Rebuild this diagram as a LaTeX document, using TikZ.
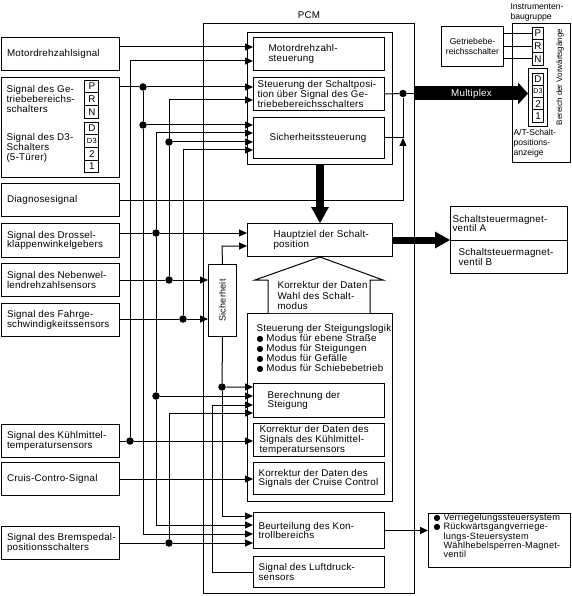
\documentclass[tikz,border=0pt]{standalone}
\usepackage{fontspec}
\setmainfont{Liberation Sans}[LetterSpace=2.5]
\newfontfamily\narrowfont{Liberation Sans}
\newfontfamily\symfont{DejaVu Sans}
\usetikzlibrary{arrows.meta,positioning}

\newcommand{\bul}{{\symfont\fontsize{8}{8}\selectfont ●}}

\tikzset{
  box/.style={draw, anchor=north west, inner sep=0pt},
  inbox/.style={box, minimum width=118pt, minimum height=33pt},
  fnbox/.style={box, minimum width=131pt},
  txt/.style={inner sep=0pt, align=left, anchor=west},
  smalltext/.style={font=\narrowfont\fontsize{8.6}{10}\selectfont},
  cell/.style={draw, inner sep=0pt, minimum width=13.7pt, minimum height=12.6pt},
  junction/.style={circle, fill, inner sep=0pt, minimum size=7.5pt},
  sig/.style={-{Triangle[length=8pt,width=7pt]}},
  bus/.style args={#1/#2/#3}{line width=#1, -{Triangle[length=#2,width=#3,line width=0pt]}},
}

\begin{document}
\begin{tikzpicture}[x=1pt, y=-1pt, line width=1pt, font=\fontsize{9.8}{9.8}\selectfont]
\useasboundingbox (0,0) rectangle (571,596);

% PCM frame
\node[box, minimum width=211pt, minimum height=570pt] (pcm) at (203,23) {};
\node[inner sep=0pt, above=4pt of pcm.north] (pcmLabel) {PCM};

% input signals
\node[inbox] (sMotor) at (0.5,37) {};
\node[inbox, minimum height=100pt] (sGetr) at (0.5,77) {};
\node[inbox] (sDiag) at (0.5,183) {};
\node[inbox, minimum height=34pt] (sDross) at (0.5,223) {};
\node[inbox] (sNeben) at (0.5,263) {};
\node[inbox] (sFahr) at (0.5,303) {};
\node[inbox] (sKuehl) at (0.5,424) {};
\node[inbox] (sCruise) at (0.5,462) {};
\node[inbox] (sBrems) at (0.5,526) {};

\node[txt, right=6pt of sMotor.west] (tMotor) {Motordrehzahlsignal};
\node[txt] (tGetr) at (6,99) {Signal des Ge-\\triebebereichs-\\schalters};
\node[txt] (tD3) at (6,148) {Signal des D3-\\Schalters\\(5-Türer)};
\node[txt, right=6pt of sDiag.west] (tDiag) {Diagnosesignal};
\node[txt, right=6pt of sDross.west] (tDross) {Signal des Drossel-\\klappenwinkelgebers};
\node[txt, right=6pt of sNeben.west] (tNeben) {Signal des Nebenwel-\\lendrehzahlsensors};
\node[txt, right=6pt of sFahr.west] (tFahr) {Signal des Fahrge-\\schwindigkeitssensors};
\node[txt, right=6pt of sKuehl.west] (tKuehl) {Signal des Kühlmittel-\\temperatursensors};
\node[txt, right=6pt of sCruise.west] (tCruise) {Cruis-Contro-Signal};
\node[txt, right=6pt of sBrems.west] (tBrems) {Signal des Bremspedal-\\positionsschalters};

\foreach \lbl [count=\i] in {P,R,N}
  \node[cell] (gSel\i) at (91.8,74+12.6*\i) {\lbl};
\foreach \lbl [count=\i] in {D,{\fontsize{7.5}{7.5}\selectfont D3},2,1}
  \node[cell, minimum height=12.67pt] (gGear\i) at (91.8,115.7+12.67*\i) {\lbl};

% control blocks
\node[box, minimum width=145pt, minimum height=132pt] (ctlGroup) at (247,32) {};
\node[fnbox, minimum height=33pt] (ctlMotor) at (253,37) {};
\node[fnbox, minimum height=33pt] (ctlShift) at (253,77) {};
\node[fnbox, minimum height=41pt] (ctlSafe) at (253,117) {};
\node[box, minimum width=145pt, minimum height=33pt] (mainT) at (247,223) {};
\node[box, minimum width=28pt, minimum height=72pt] (safety) at (208,264)
  {\rotatebox{90}{\fontsize{9}{9}\selectfont Sicherheit}};
\node[box, minimum width=145pt, minimum height=188pt] (slope) at (247,313) {};
\node[fnbox, minimum height=34pt] (calc) at (253,383) {};
\node[fnbox, minimum height=33pt] (corrCool) at (253,423) {};
\node[fnbox, minimum height=32pt] (corrCruise) at (253,462) {};
\node[fnbox, minimum height=36pt] (judge) at (253,512) {};
\node[fnbox, minimum height=31pt] (baro) at (253,556) {};

\node[txt, right=15pt of ctlMotor.west] (tCtlMotor) {Motordrehzahl-\\steuerung};
\node[txt, right=4pt of ctlShift.west] (tCtlShift) {Steuerung der Schaltposi-\\tion über Signal des Ge-\\triebebereichsschalters};
\node[txt, right=16pt of ctlSafe.west] (tCtlSafe) {Sicherheitssteuerung};
\node[txt, right=26pt of mainT.west] (tMainT) {Hauptziel der Schalt-\\position};
\node[txt, font=\fontsize{9.8}{10.2}\selectfont] (tSlope) at (256,348.5)
  {Steuerung der Steigungslogik\\\bul\ Modus für ebene Straße\\\bul\ Modus für Steigungen\\\bul\ Modus für Gefälle\\\bul\ Modus für Schiebebetrieb};
\node[txt, right=14pt of calc.west] (tCalc) {Berechnung der\\Steigung};
\node[txt, right=6pt of corrCool.west] (tCorrCool) {Korrektur der Daten des\\Signals des Kühlmittel-\\temperatursensors};
\node[txt, right=5pt of corrCruise.west] (tCorrCruise) {Korrektur der Daten des\\Signals der Cruise Control};
\node[txt, right=5pt of judge.west] (tJudge) {Beurteilung des Kon-\\trollbereichs};
\node[txt, right=5pt of baro.west] (tBaro) {Signal des Luftdruck-\\sensors};

% correction arrow
\draw[fill=white] (268,313) -- (268,280) -- (255,280) -- (mainT.south) -- (383,280) -- (370,280) -- (370,313);
\node[txt, font=\fontsize{9.8}{10.5}\selectfont] (tCorr) at (277,295.5) {Korrektur der Daten\\Wahl des Schalt-\\modus};

% outputs
\node[box, minimum width=117pt, minimum height=34pt] (valveA) at (450,206) {};
\node[box, minimum width=117pt, minimum height=33pt] (valveB) at (450,240) {};
\node[txt, right=2pt of valveA.west] (tValveA) {Schaltsteuermagnet-\\ventil A};
\node[txt, right=8pt of valveB.west] (tValveB) {Schaltsteuermagnet-\\ventil B};

\node[box, minimum width=142pt, minimum height=54pt] (lock) at (428,513) {};
\node[txt, font=\fontsize{9.2}{9.3}\selectfont] (tLock) at (443,536)
  {\makebox[0pt][r]{\bul\ }Verriegelungssteuersystem\\\makebox[0pt][r]{\bul\ }Rückwärtsgangverriege-\\lungs-Steuersystem\\Wählhebelsperren-Magnet-\\ventil};

% instrument cluster
\node[box, minimum width=58pt, minimum height=139pt] (instr) at (512,23) {};
\node[txt, smalltext] (tInstr) at (510,12) {Instrumenten-\\baugruppe};
\node[box, smalltext, align=center, minimum width=62pt, minimum height=40pt] (rangeSw) at (441,26) {Getriebebe-\\reichsschalter};
\node[box, minimum width=19pt, minimum height=58pt] (gearFrame) at (528,68) {};
\foreach \lbl [count=\i] in {P,R,N}
  \node[cell, minimum width=10.7pt, minimum height=12.7pt] (rSel\i) at (538,20.7+12.7*\i) {\lbl};
\foreach \lbl [count=\i] in {D,{\fontsize{7}{7}\selectfont D3},2,1}
  \node[cell, minimum width=10.7pt, minimum height=12.25pt] (rGear\i) at (538,66.9+12.25*\i) {\lbl};
\node[rotate=90, inner sep=0pt, font=\narrowfont\fontsize{8}{8}\selectfont] (tRange) at (560,77) {Bereich der Vorwärtsgänge};
\node[txt, smalltext] (tDisp) at (513,143) {A/T-Schalt-\\positions-\\anzeige};
\foreach \i in {1,2,3}
  \draw (rangeSw.east |- rSel\i) -- (rSel\i.west);

% junctions
\node[junction] (jGetr1) at (143,87) {};
\node[junction] (jGetr2) at (143,125) {};
\node[junction] (jDross1) at (156,233) {};
\node[junction] (jDross2) at (156,396) {};
\node[junction] (jNeben1) at (169,280) {};
\node[junction] (jNeben2) at (169,142) {};
\node[junction] (jFahr) at (183,319) {};
\node[junction] (jKuehl) at (130,441) {};
\node[junction] (jBrems) at (169,543) {};
\node[junction] (jSafe) at (222,387) {};
\node[junction] (jMux) at (403,93.5) {};

\coordinate (kRpm) at (118.5,47);
\coordinate (kMotor) at (130,61);
\coordinate (kShift) at (169,100);
\coordinate (kSafe2) at (156,133);
\coordinate (kSafe4) at (183,150);
\coordinate (kMain2) at (222,246);
\coordinate (kCalc4) at (169,413);
\coordinate (kBaro) at (212,405);
\coordinate (kJudge1) at (222,516);
\coordinate (kJudge2) at (156,525);
\coordinate (kJudge3) at (143,534);

% signal wiring
\draw[sig] (sMotor.east |- kRpm) -- (kRpm -| ctlMotor.west);
\draw[sig] (jKuehl) -- (kMotor) -- (kMotor -| ctlMotor.west);
\draw[sig] (sGetr.east |- jGetr1) -- (jGetr1) -- (jGetr1 -| ctlShift.west);
\draw[sig] (jNeben1) -- (jNeben2) -- (kShift) -- (kShift -| ctlShift.west);
\draw[sig] (jGetr1) -- (jGetr2) -- (jGetr2 -| ctlSafe.west);
\draw[sig] (jDross1) -- (kSafe2) -- (kSafe2 -| ctlSafe.west);
\draw[sig] (jNeben2) -- (jNeben2 -| ctlSafe.west);
\draw[sig] (jFahr) -- (kSafe4) -- (kSafe4 -| ctlSafe.west);
\draw[sig] (sDiag.east) -- (sDiag.east -| jMux) -- (ctlSafe.east -| jMux);
\draw[sig] (sDross.east |- jDross1) -- (jDross1) -- (jDross1 -| mainT.west);
\draw[sig] (sNeben.east |- jNeben1) -- (jNeben1) -- (jNeben1 -| safety.west);
\draw[sig] (sFahr.east |- jFahr) -- (jFahr) -- (jFahr -| safety.west);
\draw[sig] (safety.north) -- (kMain2) -- (kMain2 -| mainT.west);
\draw[sig] (safety.south) -- (jSafe) -- (jSafe -| calc.west);
\draw[sig] (jDross1) -- (jDross2) -- (jDross2 -| calc.west);
\draw[sig] (baro.west) -| (kBaro) -- (kBaro -| calc.west);
\draw[sig] (jBrems) -- (kCalc4) -- (kCalc4 -| calc.west);
\draw[sig] (sKuehl.east |- jKuehl) -- (jKuehl) -- (jKuehl -| corrCool.west);
\draw[sig] (sCruise.east) -- (sCruise.east -| corrCruise.west);
\draw[sig] (jSafe) -- (kJudge1) -- (kJudge1 -| judge.west);
\draw[sig] (jDross2) -- (kJudge2) -- (kJudge2 -| judge.west);
\draw[sig] (jGetr2) -- (kJudge3) -- (kJudge3 -| judge.west);
\draw[sig] (sBrems.east |- jBrems) -- (jBrems) -- (jBrems -| judge.west);

% outputs
\draw (ctlShift.east) -- (jMux);
\draw (ctlSafe.east) -| (jMux);
\draw (jMux) -- (jMux -| pcm.east);
\draw[bus=14pt/10pt/22pt] (jMux -| pcm.east) -- node[text=white] {Multiplex} (jMux -| gearFrame.west);
\draw[bus=8pt/16pt/18pt] (ctlGroup.south) -- (mainT.north);
\draw[bus=7pt/15pt/17pt] (mainT.east) -- (mainT.east -| valveA.west);
\draw[sig] (judge.east) -- (judge.east -| lock.west);
\end{tikzpicture}
\end{document}
